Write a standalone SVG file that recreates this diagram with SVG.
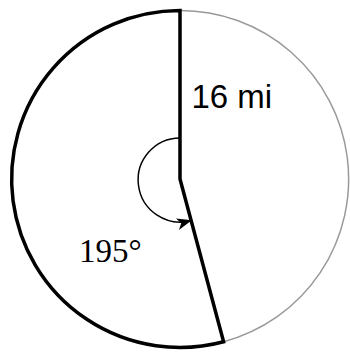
<svg xmlns="http://www.w3.org/2000/svg" width="350" height="354" viewBox="0 0 350 354">
<style>
.thick{fill:none;stroke:#000;stroke-width:3.5;stroke-linejoin:miter}
.thin{fill:none;stroke:#999;stroke-width:1.5}
.ang{fill:none;stroke:#000;stroke-width:1.5}
.sans{font-family:"Liberation Sans",Arial,sans-serif;font-size:33px;fill:#000}
.serif{font-family:"Liberation Serif","Times New Roman",serif;font-size:33px;fill:#000}
</style>
<defs>
<marker id="arr" viewBox="0 0 15 12" refX="14" refY="6" markerWidth="15" markerHeight="12" markerUnits="userSpaceOnUse" orient="auto">
<path d="M0,0 L15,6 L0,12 L4,6 Z" fill="#000"/>
</marker>
</defs>
<rect width="350" height="354" fill="#fff"/>
<g id="sector">
<path class="thin" d="M180,10.5 A168.5,168.5 0 0 1 223.6,341.8"/>
<path class="thick" d="M223.6,341.8 A168.5,168.5 0 1 1 180,10.5 L180,179 Z"/>
</g>
<g id="connectors">
<path class="ang" d="M180,138 A42,42 0 1 0 190.9,220.6" marker-end="url(#arr)"/>
</g>
<g id="labels">
<text class="sans" x="191.5" y="108.3">16 mi</text>
<text class="serif" x="79" y="262.3">195°</text>
</g>
</svg>
